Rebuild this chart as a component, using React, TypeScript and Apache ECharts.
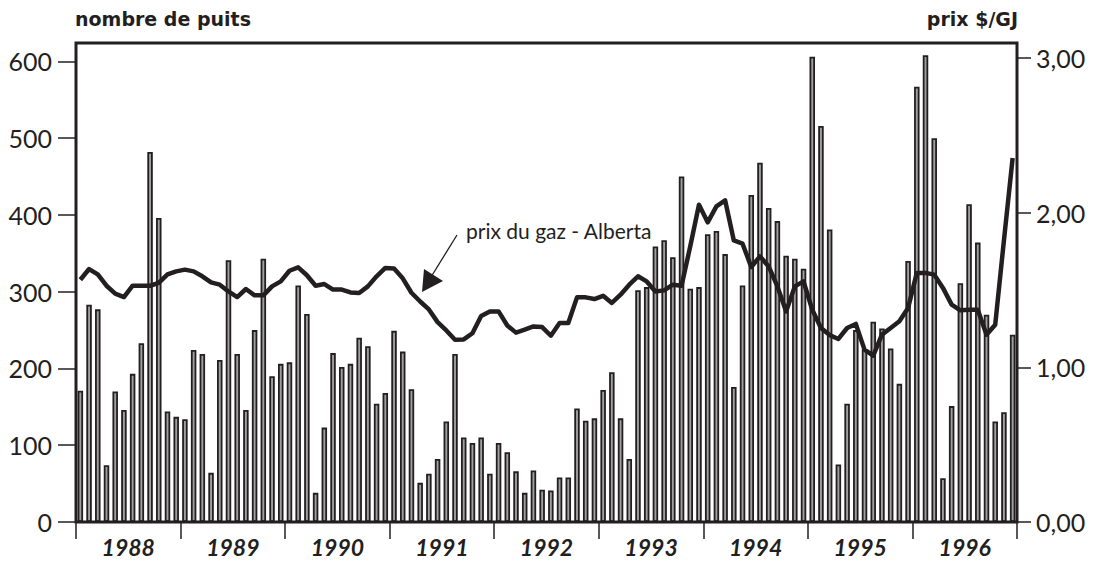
import React, { useEffect, useRef } from "react";
import * as echarts from "echarts";

const years = ["1988", "1989", "1990", "1991", "1992", "1993", "1994", "1995", "1996"];
const monthNames = ["janv", "févr", "mars", "avr", "mai", "juin", "juil", "août", "sept", "oct", "nov", "déc"];
const months = years.flatMap((y) => monthNames.map((m) => `${m} ${y}`));

// nombre de puits (monthly)
const wells = [
  171, 283, 277, 74, 170, 146, 193, 233, 482, 396, 144, 137,
  134, 224, 219, 64, 211, 341, 219, 146, 250, 343, 190, 206,
  208, 308, 271, 38, 123, 220, 202, 206, 240, 229, 154, 168,
  249, 222, 173, 51, 63, 82, 131, 219, 110, 103, 110, 63,
  103, 91, 66, 38, 67, 42, 41, 58, 58, 148, 132, 135,
  172, 195, 135, 82, 302, 306, 359, 367, 345, 450, 304, 306,
  375, 379, 349, 176, 308, 426, 468, 409, 392, 347, 343, 330,
  606, 516, 381, 75, 154, 250, 225, 261, 252, 226, 180, 340,
  567, 608, 500, 57, 151, 311, 414, 364, 270, 131, 143, 244,
];

// prix du gaz - Alberta ($/GJ)
const price = [
  1.566, 1.635, 1.6, 1.527, 1.476, 1.454, 1.527, 1.527, 1.527, 1.545, 1.6, 1.62,
  1.631, 1.62, 1.588, 1.549, 1.534, 1.49, 1.454, 1.506, 1.465, 1.465, 1.523, 1.555,
  1.624, 1.646, 1.595, 1.527, 1.538, 1.502, 1.502, 1.484, 1.48, 1.523, 1.588, 1.642,
  1.638, 1.575, 1.482, 1.425, 1.374, 1.292, 1.238, 1.178, 1.18, 1.22, 1.332, 1.361,
  1.361, 1.27, 1.224, 1.243, 1.264, 1.26, 1.204, 1.286, 1.286, 1.452, 1.452, 1.441,
  1.462, 1.416, 1.469, 1.534, 1.588, 1.555, 1.49, 1.497, 1.534, 1.527, 1.782, 2.051,
  1.937, 2.04, 2.079, 1.82, 1.799, 1.648, 1.717, 1.652, 1.523, 1.361, 1.523, 1.555,
  1.372, 1.254, 1.208, 1.183, 1.254, 1.28, 1.114, 1.075, 1.211, 1.254, 1.297, 1.383,
  1.61, 1.61, 1.599, 1.513, 1.405, 1.368, 1.372, 1.372, 1.211, 1.275, 1.82, 2.353,
];

const wellTicks = [0, 100, 200, 300, 400, 500, 600];
const priceTicks = [0, 1, 2, 3];

const INK = "#231f20";
const FONT = 'Lato, "DejaVu Sans", sans-serif';
const HEAVY = '"DejaVu Sans", Lato, sans-serif';

export default function App() {
  const ref = useRef<HTMLDivElement>(null);

  useEffect(() => {
    const chart = echarts.init(ref.current!, null, { renderer: "svg" });
    chart.setOption({
      animation: false,
      backgroundColor: "#ffffff",
      textStyle: { fontFamily: FONT },
      grid: {
        left: 76,
        right: 79,
        top: 43,
        bottom: 40,
        show: true,
        borderColor: INK,
        borderWidth: 3,
        backgroundColor: "transparent",
        z: 10,
      },
      xAxis: [
        {
          type: "category",
          data: months,
          boundaryGap: true,
          axisLine: { show: false },
          axisTick: {
            show: true,
            length: 17,
            interval: (i: number) => i % 12 === 0,
            lineStyle: { color: INK, width: 1.5 },
          },
          axisLabel: { show: false },
          splitLine: { show: false },
        },
        {
          type: "category",
          data: years,
          position: "bottom",
          boundaryGap: true,
          axisLine: { show: false },
          axisTick: { show: false },
          axisLabel: {
            show: true,
            interval: 0,
            margin: 13,
            fontSize: 23,
            lineHeight: 24,
            fontWeight: "bold",
            fontStyle: "italic",
            color: INK,
            fontFamily: FONT,
          },
          splitLine: { show: false },
        },
      ],
      yAxis: [
        {
          type: "value",
          min: 0,
          max: 624,
          position: "left",
          axisLine: { show: false },
          axisTick: {
            show: true,
            length: 18,
            customValues: wellTicks,
            lineStyle: { color: INK, width: 1.5 },
          },
          axisLabel: {
            customValues: wellTicks,
            margin: 24,
            fontSize: 25,
            color: INK,
            fontFamily: FONT,
          },
          splitLine: { show: false },
        },
        {
          type: "value",
          min: 0,
          max: 3.096,
          position: "right",
          axisLine: { show: false },
          axisTick: {
            show: true,
            length: 14,
            customValues: priceTicks,
            lineStyle: { color: INK, width: 1.5 },
          },
          axisLabel: {
            customValues: priceTicks,
            margin: 19,
            fontSize: 25,
            color: INK,
            fontFamily: FONT,
            formatter: (v: number) => v.toFixed(2).replace(".", ","),
          },
          splitLine: { show: false },
        },
      ],
      series: [
        {
          name: "nombre de puits",
          type: "bar",
          xAxisIndex: 0,
          yAxisIndex: 0,
          data: wells,
          barWidth: 5.5,
          itemStyle: { color: "#a0a0a0", borderColor: INK, borderWidth: 1.8 },
          z: 2,
        },
        {
          name: "prix du gaz - Alberta",
          type: "line",
          xAxisIndex: 0,
          yAxisIndex: 1,
          data: price,
          symbol: "none",
          smooth: false,
          lineStyle: { color: INK, width: 4.5, join: "round" },
          z: 3,
        },
      ],
      graphic: [
        {
          type: "text",
          left: 75,
          top: 9,
          style: { text: "nombre de puits", font: `bold 19px ${HEAVY}`, fill: INK },
        },
        {
          type: "text",
          right: 78,
          top: 9,
          style: { text: "prix $/GJ", font: `bold 19px ${HEAVY}`, fill: INK },
        },
        {
          type: "text",
          left: 466,
          top: 220,
          style: { text: "prix du gaz - Alberta", font: `21px ${FONT}`, fill: INK },
        },
        {
          type: "line",
          shape: { x1: 457, y1: 235, x2: 431, y2: 277 },
          style: { stroke: INK, lineWidth: 1.3 },
        },
        {
          type: "polygon",
          shape: { points: [[422, 292], [424, 269], [443, 281]] },
          style: { fill: INK },
        },
      ],
    });
    return () => chart.dispose();
  }, []);

  return (
    <div
      ref={ref}
      style={{ position: "absolute", left: 0, top: 0, width: 1096, height: 562 }}
    />
  );
}
